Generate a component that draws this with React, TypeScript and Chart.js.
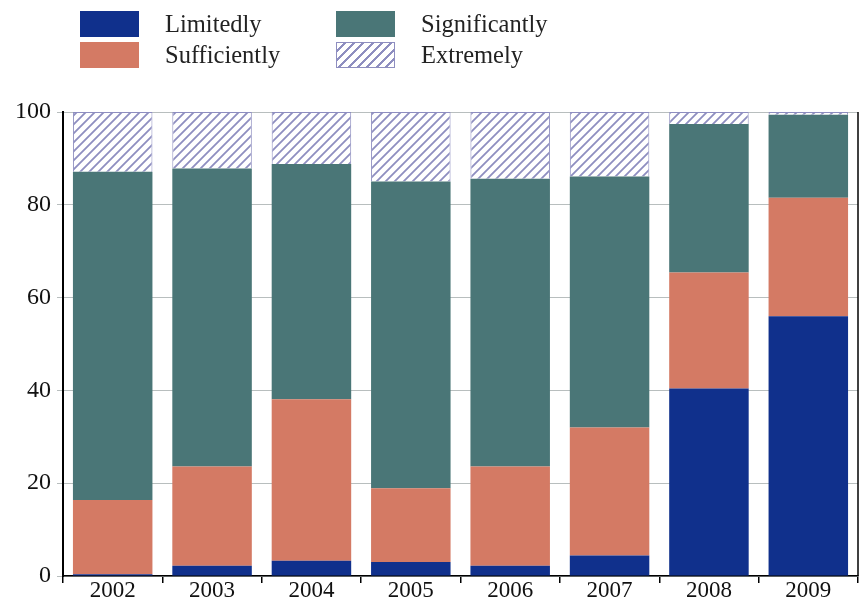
import React, { useEffect, useRef } from "react";
import { Chart, registerables } from "chart.js";

Chart.register(...registerables);

const categories = ["2002", "2003", "2004", "2005", "2006", "2007", "2008", "2009"];
const limitedly = [0.4, 2.2, 3.3, 3.0, 2.2, 4.4, 40.4, 56.0];
const sufficiently = [16.0, 21.4, 34.8, 15.9, 21.4, 27.6, 25.0, 25.5];
const significantly = [70.7, 64.2, 50.7, 66.1, 62.0, 54.1, 32.0, 17.9];
const extremely = [12.9, 12.2, 11.2, 15.0, 14.4, 13.9, 2.6, 0.6];
const yTicks = [0, 20, 40, 60, 80, 100];

const BLUE = "#10308c";
const SALMON = "#d47a64";
const TEAL = "#4a7677";
const HATCH = "#8e8ec0";
const FONT = "'Liberation Serif', 'DejaVu Serif', serif";

function makeHatch(): CanvasPattern | string {
  const c = document.createElement("canvas");
  const s = 9;
  c.width = s;
  c.height = s;
  const ctx = c.getContext("2d");
  if (!ctx) return "#fff";
  ctx.fillStyle = "#ffffff";
  ctx.fillRect(0, 0, s, s);
  ctx.strokeStyle = HATCH;
  ctx.lineWidth = 1.8;
  ctx.beginPath();
  ctx.moveTo(0, s);
  ctx.lineTo(s, 0);
  ctx.moveTo(-s / 2, s / 2);
  ctx.lineTo(s / 2, -s / 2);
  ctx.moveTo(s / 2, s + s / 2);
  ctx.lineTo(s + s / 2, s / 2);
  ctx.stroke();
  const p = ctx.createPattern(c, "repeat");
  return p || "#fff";
}

const legendItems = [
  { label: "Limitedly", color: BLUE, left: 80, top: 10 },
  { label: "Sufficiently", color: SALMON, left: 80, top: 41 },
  { label: "Significantly", color: TEAL, left: 336, top: 10 },
  { label: "Extremely", color: "hatch", left: 336, top: 41 },
];

export default function App() {
  const ref = useRef<HTMLCanvasElement>(null);

  useEffect(() => {
    if (!ref.current) return;
    const hatch = makeHatch();
    const rightBorder = {
      id: "rightBorder",
      afterDraw(chart: any) {
        const { ctx, chartArea } = chart;
        ctx.save();
        ctx.strokeStyle = "#000";
        ctx.lineWidth = 1.5;
        ctx.beginPath();
        ctx.moveTo(chartArea.right, chartArea.top);
        ctx.lineTo(chartArea.right, chartArea.bottom);
        ctx.stroke();
        ctx.restore();
      },
    };
    const chart = new Chart(ref.current, {
      type: "bar",
      data: {
        labels: categories,
        datasets: [
          { label: "Limitedly", data: limitedly, backgroundColor: BLUE, borderWidth: 0 },
          { label: "Sufficiently", data: sufficiently, backgroundColor: SALMON, borderWidth: 0 },
          { label: "Significantly", data: significantly, backgroundColor: TEAL, borderWidth: 0 },
          {
            label: "Extremely",
            data: extremely,
            backgroundColor: hatch as any,
            borderColor: HATCH,
            borderWidth: 1,
          },
        ],
      },
      options: {
        animation: false,
        responsive: false,
        devicePixelRatio: 1,
        layout: { padding: { top: 112, right: 3, left: 0, bottom: 0 } },
        datasets: { bar: { barPercentage: 0.8, categoryPercentage: 1.0 } },
        plugins: { legend: { display: false }, tooltip: { enabled: false } },
        scales: {
          x: {
            stacked: true,
            grid: { drawOnChartArea: false, drawTicks: true, tickLength: 7, color: "#000", lineWidth: 1.5 },
            border: { display: true, color: "#000", width: 1.5 },
            ticks: { color: "#111", font: { family: FONT, size: 23 }, padding: -6 },
            afterFit(scale: any) {
              scale.height = 27;
            },
          },
          y: {
            stacked: true,
            min: 0,
            max: 100,
            afterBuildTicks(scale: any) {
              scale.ticks = yTicks.map((v) => ({ value: v }));
            },
            grid: { color: "#b8bebe", lineWidth: 1, tickLength: 6 },
            border: { display: true, color: "#000", width: 2 },
            ticks: { color: "#111", font: { family: FONT, size: 24 }, padding: 6 },
            afterFit(scale: any) {
              scale.width = 63;
            },
          },
        },
      },
      plugins: [rightBorder],
    });
    return () => chart.destroy();
  }, []);

  return (
    <div style={{ position: "absolute", left: 0, top: 0, width: 861, height: 603, background: "#fff" }}>
      <canvas ref={ref} width={861} height={603} style={{ position: "absolute", left: 0, top: 0 }} />
      {legendItems.map((it) => (
        <div key={it.label} style={{ position: "absolute", left: it.left, top: it.top, height: 27, display: "flex", alignItems: "center" }}>
          <div
            style={{
              width: 59,
              height: 26,
              boxSizing: "border-box",
              background:
                it.color === "hatch"
                  ? `repeating-linear-gradient(-45deg, #ffffff 0px, #ffffff 4.5px, ${HATCH} 4.5px, ${HATCH} 6.6px)`
                  : it.color,
              border: it.color === "hatch" ? `1px solid ${HATCH}` : "none",
            }}
          />
          <span style={{ marginLeft: 26, fontFamily: FONT, fontSize: 24.5, color: "#222", lineHeight: "27px" }}>{it.label}</span>
        </div>
      ))}
    </div>
  );
}
